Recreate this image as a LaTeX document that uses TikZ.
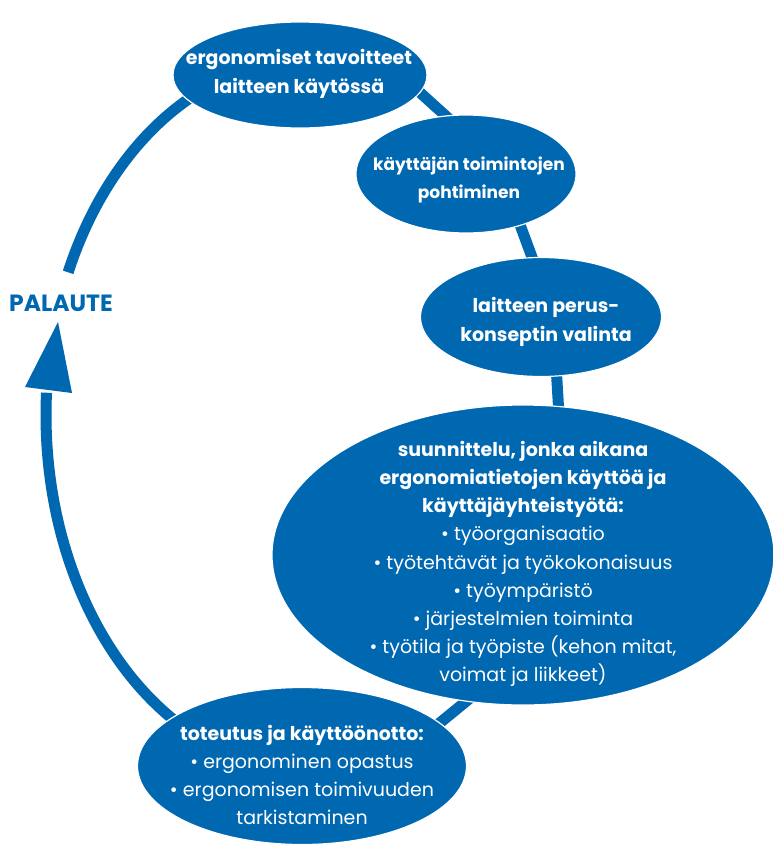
\documentclass[tikz,border=0pt]{standalone}
\usepackage{fontspec}
\setmainfont{Poppins}
\usetikzlibrary{shapes.geometric}
\definecolor{ringblue}{RGB}{0,103,177}
\begin{document}
\begin{tikzpicture}[x=1pt,y=-1pt,
  bubble/.style={ellipse, fill=ringblue, draw=white, line width=1.2pt, inner sep=0pt},
  ring/.style={draw=ringblue, line width=11pt},
  txt/.style={text=white, align=center, inner sep=0pt, font=\fontsize{19}{28.2}\selectfont},
  smalltxt/.style={txt, font=\fontsize{17}{28.2}\selectfont},
  fb/.style={text=ringblue, inner sep=0pt, font=\fontsize{23.5}{26}\selectfont\bfseries}]
\useasboundingbox (0,0) rectangle (773,844);

% ring centre and connector end points
\coordinate (ctr) at (308,415);
\coordinate (c12a) at (405,79);
\coordinate (c12b) at (458,127);
\coordinate (c23a) at (519,222);
\coordinate (c23b) at (536,268);
\coordinate (c34a) at (556,365);
\coordinate (c34b) at (559,415);
\coordinate (c45a) at (480,690);
\coordinate (c45b) at (425,735);
\coordinate (tipL) at (25,387);
\coordinate (tip) at (58,322);
\coordinate (tipR) at (72,393);

% ring pieces (behind the bubbles)
\draw[ring] (ctr) ++(156.3:262pt and 355pt) coordinate (ringtopstart)
  arc[start angle=156.3, end angle=105, x radius=262pt, y radius=355pt];
\draw[ring] (ctr) ++(-110:262pt and 355pt) coordinate (ringbotstart)
  arc[start angle=-110, end angle=-183.6, x radius=262pt, y radius=355pt];
\fill[ringblue] (tipL) -- (tip) -- (tipR) -- cycle;
\draw[ring] (c12a) -- (c12b);
\draw[ring] (c23a) -- (c23b);
\draw[ring] (c34a) -- (c34b);
\draw[ring] (c45a) -- (c45b);

% bubbles
\node[bubble, minimum width=254pt, minimum height=106pt] (e1) at (300,75) {};
\node[bubble, minimum width=220pt, minimum height=118pt] (e2) at (466,174) {};
\node[bubble, minimum width=241pt, minimum height=119pt] (e3) at (541,317) {};
\node[bubble, minimum width=502pt, minimum height=300pt] (e4) at (523,555) {};
\node[bubble, minimum width=329pt, minimum height=157pt] (e5) at (302,766) {};

% texts
\node[txt] (t1) at (299,74) {\textbf{ergonomiset tavoitteet}\\\textbf{laitteen käytössä}};
\node[smalltxt] (t2) at (469,180) {\textbf{käyttäjän toimintojen}\\\textbf{pohtiminen}};
\node[txt] (t3) at (546,322) {\textbf{laitteen perus-}\\\textbf{konseptin valinta}};
\node[txt] (t4) at (523,564) {\textbf{suunnittelu, jonka aikana}\\
  \textbf{ergonomiatietojen käyttöä ja}\\
  \textbf{käyttäjäyhteistyötä:}\\
  • työorganisaatio\\
  • työtehtävät ja työkokonaisuus\\
  • työympäristö\\
  • järjestelmien toiminta\\
  • työtila ja työpiste (kehon mitat,\\
  voimat ja liikkeet)};
\node[txt] (t5) at (302,775) {\textbf{toteutus ja käyttöönotto:}\\
  • ergonominen opastus\\
  • ergonomisen toimivuuden\\
  tarkistaminen};
\node[fb] (fb) at (61,303) {PALAUTE};
\end{tikzpicture}
\end{document}
